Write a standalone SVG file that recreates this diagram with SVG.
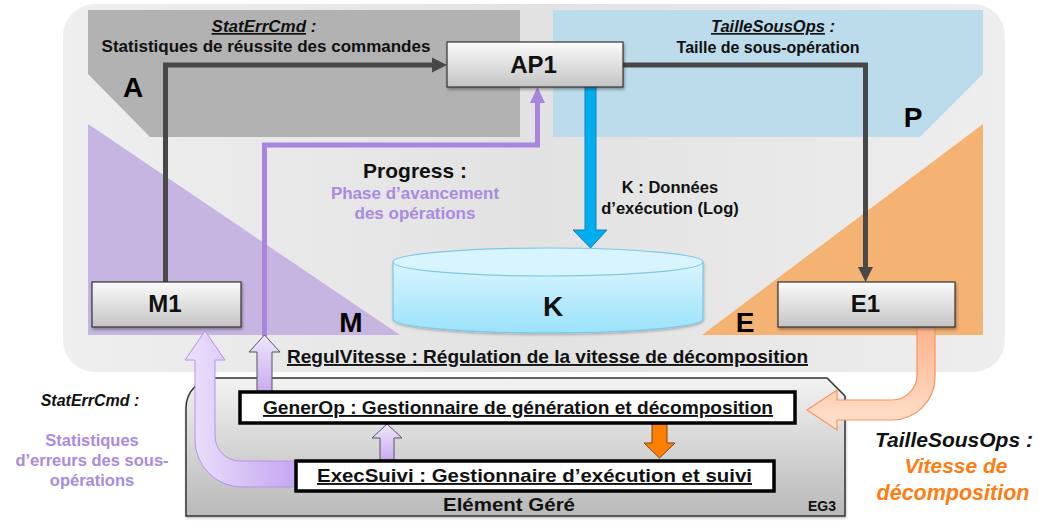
<svg xmlns="http://www.w3.org/2000/svg" width="1038" height="521" viewBox="0 0 1038 521">
<defs>
  <linearGradient id="gBox" x1="0" y1="0" x2="0" y2="1">
    <stop offset="0" stop-color="#fbfbfb"/>
    <stop offset="1" stop-color="#c4c4c4"/>
  </linearGradient>
  <linearGradient id="gBg" x1="0" y1="0" x2="1" y2="0">
    <stop offset="0" stop-color="#efefef"/>
    <stop offset="0.5" stop-color="#e2e2e2"/>
    <stop offset="1" stop-color="#eeeeee"/>
  </linearGradient>
  <linearGradient id="gCyl" x1="0" y1="0" x2="0" y2="1">
    <stop offset="0" stop-color="#daf5ff"/>
    <stop offset="1" stop-color="#9be2fb"/>
  </linearGradient>
  <linearGradient id="gEG" x1="0" y1="0" x2="0" y2="1">
    <stop offset="0" stop-color="#f2f2f2"/>
    <stop offset="1" stop-color="#b9b9b9"/>
  </linearGradient>
  <linearGradient id="gLav" x1="0" y1="0" x2="1" y2="0">
    <stop offset="0" stop-color="#ece2fb"/>
    <stop offset="1" stop-color="#c6a6f2"/>
  </linearGradient>
  <linearGradient id="gLavV" x1="0" y1="0" x2="0" y2="1">
    <stop offset="0" stop-color="#efe6fc"/>
    <stop offset="1" stop-color="#c9abf2"/>
  </linearGradient>
  <linearGradient id="gPeach" x1="0" y1="0" x2="0" y2="1">
    <stop offset="0" stop-color="#fcb28c"/>
    <stop offset="1" stop-color="#ffe2cf"/>
  </linearGradient>
  <filter id="sh" x="-10%" y="-10%" width="130%" height="140%">
    <feDropShadow dx="1" dy="2" stdDeviation="1.5" flood-color="#000" flood-opacity="0.35"/>
  </filter>
  <filter id="shs" x="-10%" y="-10%" width="130%" height="140%">
    <feDropShadow dx="0.5" dy="1.5" stdDeviation="1" flood-color="#000" flood-opacity="0.25"/>
  </filter>
</defs>
<style>
  .t { font-family: "Liberation Sans", Arial, sans-serif; font-weight: bold; fill: #111; }
  .it { font-family: "Liberation Sans", Arial, sans-serif; font-weight: bold; font-style: italic; }
  .big { font-size: 28px; text-anchor: middle; fill: #000; }
  .node { font-size: 24px; text-anchor: middle; fill: #111; }
  .lbl { text-anchor: middle; }
  .ul { text-decoration: underline; }
  .pur { fill: #a98be0; }
  .gbox { fill: url(#gBox); stroke: #333; stroke-width: 1.2; }
  .wbox { fill: #fff; stroke: #000; stroke-width: 3.5; }
  .dline { fill: none; stroke: #484848; stroke-width: 5; }
  .pline { fill: none; stroke: #a985de; stroke-width: 5; }
</style>

<!-- background -->
<rect x="63" y="4" width="942" height="368" rx="32" fill="url(#gBg)"/>

<!-- zones -->
<polygon points="88,10 520,10 520,137 150,137 88,74" fill="#b2b2b2"/>
<polygon points="553,10 983,10 983,74 920,137 553,137" fill="#bcdcec"/>
<polygon points="88,124 88,335 400,335" fill="#c6b4e1"/>
<polygon points="983,124 983,335 702,335" fill="#f4b273"/>
<text class="t big" x="133" y="97">A</text>
<text class="t big" x="913" y="127">P</text>
<text class="t big" x="351" y="332">M</text>
<text class="t big" x="745" y="332">E</text>

<!-- EG3 container -->
<g id="EG3">
  <path d="M186,516 V408 A30,30 0 0 1 216,378 H827 L845,396 V516 Z" fill="url(#gEG)" stroke="#333" stroke-width="1.5" filter="url(#shs)"/>
  <text class="t" x="443" y="511" font-size="18" textLength="132" lengthAdjust="spacingAndGlyphs">Elément Géré</text>
  <text class="t" x="822" y="511" font-size="14" text-anchor="middle">EG3</text>
</g>

<!-- connectors -->
<g id="connectors">
  <!-- M1 -> AP1 -->
  <path class="dline" d="M165.5,282 V65 H434"/>
  <polygon points="432,57.5 447,65 432,72.5" fill="#484848"/>
  <!-- AP1 -> E1 -->
  <path class="dline" d="M622,65 H865.5 V268"/>
  <polygon points="858,267 865.5,282 873,267" fill="#484848"/>
  <!-- AP1 -> K blue -->
  <path d="M585,87 V230 H573 L590.5,248 L607,230 H596 V87 Z" fill="#00aeef" stroke="#1a7cb8" stroke-width="1"/>
  <!-- Progress purple -->
  <path class="pline" d="M264.5,336 V145 H537.5 V102"/>
  <polygon points="530,103 537.5,87 545,103" fill="#a985de"/>
  <!-- GenerOp -> region (RegulVitesse) -->
  <path d="M257,392 V352 H249 L264.5,335 L280,352 H272 V392 Z" fill="url(#gLavV)" stroke="#555" stroke-width="1"/>
  <!-- ExecSuivi -> M1 (big curved) -->
  <path d="M296,461 H240 A25,25 0 0 1 215,436 V360 H225 L205,331 L185,360 H195 V440 A47,47 0 0 0 242,487 H296 Z" fill="url(#gLav)" stroke="#b394e6" stroke-width="1"/>
  <!-- ExecSuivi -> GenerOp -->
  <path d="M380,460 V438 H372 L387,424 L402,438 H394 V460 Z" fill="url(#gLavV)" stroke="#555" stroke-width="1"/>
  <!-- GenerOp -> ExecSuivi orange -->
  <path d="M652,424 V443 H644 L659.5,458 L675,443 H667 V424 Z" fill="#ff7f00" stroke="#7a4515" stroke-width="1"/>
  <!-- E1 -> GenerOp peach curved -->
  <path d="M917,327 V375 A25,25 0 0 1 892,400 H837 V390 L807,410 L837,430 V420 H892 A43,43 0 0 0 935,377 V327 Z" fill="url(#gPeach)" stroke="#f7945a" stroke-width="1.2"/>
</g>

<!-- nodes -->
<g id="AP1">
  <rect class="gbox" x="447" y="42" width="176" height="45" filter="url(#sh)"/>
  <text class="t node" x="533.5" y="73" font-size="25">AP1</text>
</g>
<g id="M1">
  <rect class="gbox" x="92" y="282" width="149" height="45" filter="url(#sh)"/>
  <text class="t node" x="165" y="312">M1</text>
</g>
<g id="E1">
  <rect class="gbox" x="778" y="282" width="177" height="45" filter="url(#sh)"/>
  <text class="t node" x="865.5" y="312">E1</text>
</g>
<g id="K">
  <path d="M393,262 V319 A155,14 0 0 0 703,319 V262 Z" fill="url(#gCyl)" stroke="#7ec7e6" stroke-width="1.2" filter="url(#shs)"/>
  <ellipse cx="548" cy="262" rx="155" ry="14" fill="#d8f5ff" stroke="#7ec7e6" stroke-width="1.2"/>
  <text class="t" x="553" y="316" font-size="28" text-anchor="middle">K</text>
</g>
<g id="GenerOp">
  <rect class="wbox" x="240" y="392" width="555" height="31"/>
  <text class="t ul" x="263" y="414" font-size="19" textLength="510" lengthAdjust="spacingAndGlyphs">GenerOp : Gestionnaire de génération et décomposition</text>
</g>
<g id="ExecSuivi">
  <rect class="wbox" x="296" y="461" width="478" height="30"/>
  <text class="t ul" x="317" y="482" font-size="19" textLength="435" lengthAdjust="spacingAndGlyphs">ExecSuivi : Gestionnaire d’exécution et suivi</text>
</g>

<!-- labels -->
<text class="it" x="264" y="32" font-size="17" text-anchor="middle" fill="#111"><tspan class="ul">StatErrCmd</tspan> :</text>
<text class="t lbl" x="266" y="52" font-size="17">Statistiques de réussite des commandes</text>
<text class="it" x="773" y="32" font-size="16.5" text-anchor="middle" fill="#111"><tspan class="ul">TailleSousOps</tspan> :</text>
<text class="t lbl" x="768" y="53" font-size="16">Taille de sous-opération</text>
<text class="t" x="415" y="178" font-size="21" text-anchor="middle">Progress :</text>
<text class="t pur" x="415" y="199" font-size="17" text-anchor="middle" style="fill:#a98be0">Phase d’avancement</text>
<text class="t pur" x="415" y="219" font-size="17" text-anchor="middle" style="fill:#a98be0">des opérations</text>
<text class="t" x="670" y="193" font-size="16.5" text-anchor="middle">K : Données</text>
<text class="t" x="670" y="214" font-size="16.5" text-anchor="middle">d’exécution (Log)</text>
<text class="t ul" x="287" y="363" font-size="19" textLength="521" lengthAdjust="spacingAndGlyphs">RegulVitesse : Régulation de la vitesse de décomposition</text>
<text class="it" x="90" y="406" font-size="16" text-anchor="middle" fill="#111">StatErrCmd :</text>
<text class="t" x="92" y="446" font-size="16.5" text-anchor="middle" style="fill:#a98be0">Statistiques</text>
<text class="t" x="92" y="466" font-size="16.5" text-anchor="middle" style="fill:#a98be0">d’erreurs des sous-</text>
<text class="t" x="92" y="486" font-size="16.5" text-anchor="middle" style="fill:#a98be0">opérations</text>
<text class="it" x="954" y="447" font-size="21" text-anchor="middle" fill="#111">TailleSousOps :</text>
<text class="it" x="956" y="473" font-size="21" text-anchor="middle" fill="#ff7c12">Vitesse de</text>
<text class="it" x="953" y="500" font-size="21.5" text-anchor="middle" fill="#ff7c12">décomposition</text>
</svg>
